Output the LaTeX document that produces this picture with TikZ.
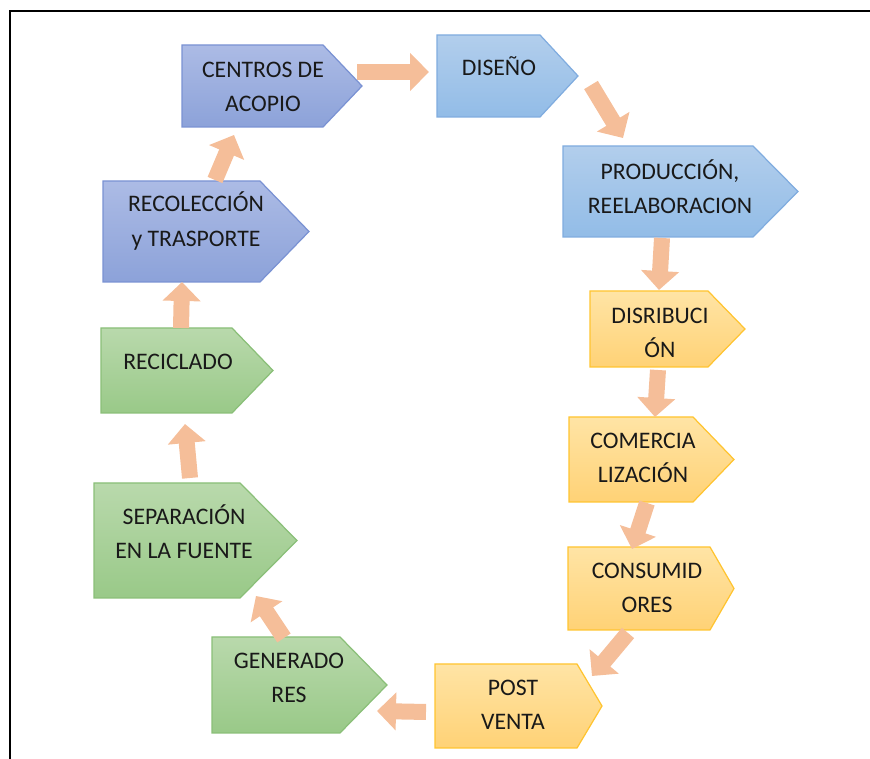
\documentclass[tikz,border=0pt]{standalone}
\usepackage{fontspec}
\setmainfont{Carlito}
\usetikzlibrary{calc,arrows.meta}

\definecolor{moradoSup}{RGB}{172,187,229}
\definecolor{moradoInf}{RGB}{140,162,217}
\definecolor{moradoBorde}{RGB}{122,146,211}
\definecolor{azulSup}{RGB}{178,206,236}
\definecolor{azulInf}{RGB}{146,188,231}
\definecolor{azulBorde}{RGB}{128,172,223}
\definecolor{amarilloSup}{RGB}{255,228,165}
\definecolor{amarilloInf}{RGB}{255,210,118}
\definecolor{amarilloBorde}{RGB}{255,196,48}
\definecolor{verdeSup}{RGB}{185,217,172}
\definecolor{verdeInf}{RGB}{153,201,136}
\definecolor{verdeBorde}{RGB}{138,191,120}
\definecolor{flechaCol}{RGB}{245,190,153}

\tikzset{
  cuerpo/.style={inner sep=0pt, outer sep=0pt},
  texto/.style={align=center, font=\fontsize{13.5}{19.5}\selectfont, text=black!90},
  morado/.style={draw=moradoBorde, line width=0.7pt, top color=moradoSup, bottom color=moradoInf},
  azul/.style={draw=azulBorde, line width=0.7pt, top color=azulSup, bottom color=azulInf},
  amarillo/.style={draw=amarilloBorde, line width=0.7pt, top color=amarilloSup, bottom color=amarilloInf},
  verde/.style={draw=verdeBorde, line width=0.7pt, top color=verdeSup, bottom color=verdeInf},
  flecha/.style={draw=flechaCol, line width=0.32cm, -{Triangle[width=0.74cm,length=0.38cm]}}
}

% nombre, estilo, x, y, ancho del cuerpo, alto, punta
\newcommand{\etapa}[7]{%
  \node[cuerpo, minimum width=#5*0.02cm, minimum height=#6*0.02cm] (#1) at ({#3+#5/2},{#4+#6/2}) {};
  \path[#2] (#1.north west) -- (#1.north east) -- ($(#1.east)+(#7,0)$)
    -- (#1.south east) -- (#1.south west) -- cycle;
}

\begin{document}
\begin{tikzpicture}[x=0.02cm, y=-0.02cm]
	\useasboundingbox (0,0) rectangle (870,759);
	\draw[line width=0.05cm] (10,759) -- (10,11) -- (870,11);

	\etapa{centros}{morado}{182}{45}{141}{82}{39}
	\etapa{diseno}{azul}{437}{35}{103}{82}{38}
	\etapa{produccion}{azul}{563}{146}{190}{91}{45}
	\etapa{distribucion}{amarillo}{590}{291}{118}{76}{37}
	\etapa{comercializacion}{amarillo}{569}{417}{124}{85}{41}
	\etapa{consumidores}{amarillo}{568}{547}{142}{83}{24}
	\etapa{postventa}{amarillo}{435}{664}{142}{84}{25}
	\etapa{generadores}{verde}{212}{637}{128}{96}{47}
	\etapa{separacion}{verde}{94}{483}{146}{115}{57}
	\etapa{reciclado}{verde}{101}{328}{131}{85}{41}
	\etapa{recoleccion}{morado}{103}{181}{157}{101}{49}

	\node[texto] (centros-t) at (263,87) {CENTROS DE\\ACOPIO};
	\node[texto] (diseno-t) at (499,66) {DISEÑO};
	\node[texto] (produccion-t) at (670,187) {PRODUCCIÓN,\\REELABORACION};
	\node[texto] (distribucion-t) at (660,333) {DISRIBUCI\\ÓN};
	\node[texto] (comercializacion-t) at (643,458) {COMERCIA\\LIZACIÓN};
	\node[texto] (consumidores-t) at (647,588) {CONSUMID\\ORES};
	\node[texto] (postventa-t) at (513,705) {POST\\VENTA};
	\node[texto] (generadores-t) at (289,678) {GENERADO\\RES};
	\node[texto] (separacion-t) at (184,532) {SEPARACIÓN\\EN LA FUENTE};
	\node[texto] (reciclado-t) at (178,362) {RECICLADO};
	\node[texto] (recoleccion-t) at (196,221) {RECOLECCIÓN\\y TRASPORTE};

	\draw[flecha] ($(centros.east)+(34,-14)$) -- ($(diseno.west)+(-8,-4)$);
	\draw[flecha] ($(diseno.east)+(51,9)$) -- ($(produccion.north west)+(60,-8)$);
	\draw[flecha] ($(produccion.south)+(4,1)$) -- ($(distribucion.north)+(10,-1)$);
	\draw[flecha] ($(distribucion.south)+(9,3)$) -- ($(comercializacion.north)+(24,0)$);
	\draw[flecha] ($(comercializacion.south)+(16,1)$) -- ($(consumidores.north)+(-7,2)$);
	\draw[flecha] ($(consumidores.south)+(-11,3)$) -- ($(postventa.north east)+(15,12)$);
	\draw[flecha] ($(postventa.west)+(-9,6)$) -- ($(generadores.east)+(37,26)$);
	\draw[flecha] ($(generadores.north)+(8,1)$) -- ($(separacion.south east)+(16,-2)$);
	\draw[flecha] ($(separacion.north)+(23,-5)$) -- ($(reciclado.south)+(18.5,11)$);
	\draw[flecha] ($(reciclado.north)+(14.5,0)$) -- ($(recoleccion.south)+(0.5,0)$);
	\draw[flecha] ($(recoleccion.north)+(33.5,-1)$) -- ($(centros.south)+(-18.5,8)$);
\end{tikzpicture}
\end{document}
